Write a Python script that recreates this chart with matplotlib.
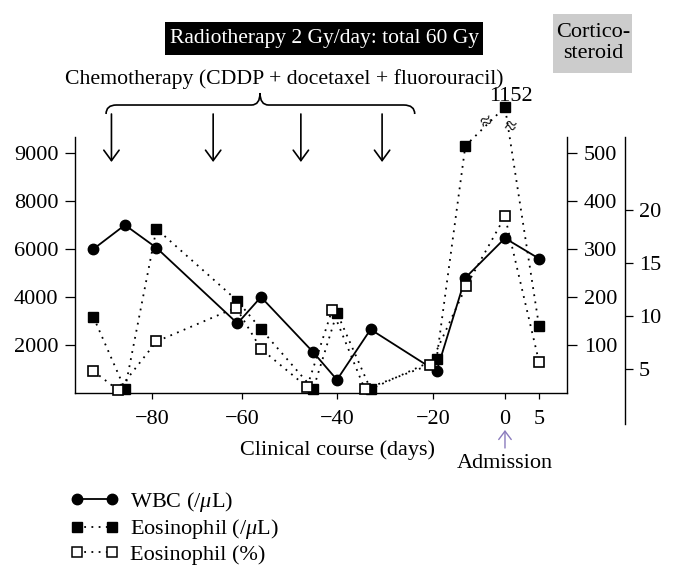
#Clinical course: WBC and eosinophil counts around radio/chemotherapy

import numpy as np
import matplotlib.pyplot as plt
from matplotlib.lines import Line2D
from matplotlib.path import Path
from matplotlib.patches import PathPatch, Rectangle
from matplotlib.scale import FuncScale

plt.rcParams['font.family'] = ['Liberation Serif', 'DejaVu Serif']
plt.rcParams['font.size'] = 16
plt.rcParams['mathtext.fontset'] = 'custom'
plt.rcParams['mathtext.rm'] = 'Liberation Serif'
plt.rcParams['mathtext.it'] = 'Liberation Serif:italic'

#Data (days relative to admission)
wbc_days = [-93, -86, -79, -61, -56, -45, -40, -33, -19, -11, 0, 5]
wbc = [6000, 7000, 6050, 2900, 4000, 1700, 550, 2650, 900, 4800, 6450, 5600]

eos_days = [-93, -86, -79, -61, -56, -45, -40, -33, -19, -11, 0, 5]
eos_ul = [158, 8, 342, 192, 133, 8, 167, 8, 71, 515, 1152, 140]

pct_days = [-93, -87.5, -79, -61.3, -56, -46.3, -41, -34.2, -20.6, -10.8, 0, 5]
eos_pct = [4.8, 3.0, 7.6, 10.8, 6.9, 3.3, 10.6, 3.1, 5.4, 12.8, 19.4, 5.7]

chemo_days = [-89, -66.4, -47.6, -30.6]

x_ticks = [-80, -60, -40, -20, 0, 5]
wbc_ticks = [2000, 4000, 6000, 8000, 10000]
wbc_ticklabels = ['2000', '4000', '6000', '8000', '9000']
eos_ticks = [100, 200, 300, 400, 500]
pct_ticks = [5, 10, 15, 20]

#The day axis in the original is drawn by hand: uneven spacing between ticks
knot_days = np.array([-80, -60, -40, -20, 0, 5], float)
knot_pos = np.array([152, 242, 337, 433, 505, 539], float)

def day_fwd(d):
    d = np.asarray(d, float)
    s0 = (knot_pos[1] - knot_pos[0]) / (knot_days[1] - knot_days[0])
    s1 = (knot_pos[-1] - knot_pos[-2]) / (knot_days[-1] - knot_days[-2])
    return np.where(d < knot_days[0], knot_pos[0] + (d - knot_days[0]) * s0,
           np.where(d > knot_days[-1], knot_pos[-1] + (d - knot_days[-1]) * s1,
                    np.interp(d, knot_days, knot_pos)))

def day_inv(p):
    p = np.asarray(p, float)
    s0 = (knot_days[1] - knot_days[0]) / (knot_pos[1] - knot_pos[0])
    s1 = (knot_days[-1] - knot_days[-2]) / (knot_pos[-1] - knot_pos[-2])
    return np.where(p < knot_pos[0], knot_days[0] + (p - knot_pos[0]) * s0,
           np.where(p > knot_pos[-1], knot_days[-1] + (p - knot_pos[-1]) * s1,
                    np.interp(p, knot_pos, knot_days)))

#Broken axis for the eosinophil peak (1152 drawn just above the axis top)
eos_shown = np.where(np.array(eos_ul) > 520, 520 + (np.array(eos_ul) - 520) * 0.12, eos_ul)

W, H = 674, 578
fig = plt.figure(figsize=(W / 100, H / 100), dpi=100)

ax = fig.add_axes([75 / W, 1 - 393 / H, 492 / W, 256 / H])
ax.set_xscale(FuncScale(ax.xaxis, (day_fwd, day_inv)))
ax.set_xlim(-97.1, 9.12)
ax.set_ylim(0, 10667)

ax2 = ax.twinx()
ax2.set_ylim(0, 533.3)

ax3 = fig.add_axes([75 / W, 1 - 424 / H, 492 / W, 287 / H], sharex=ax)
ax3.set_ylim(-0.19, 26.9)
ax3.patch.set_visible(False)

#Series
ax.plot(wbc_days, wbc, '-', color='k', lw=1.3, marker='o', ms=7.5, clip_on=False, zorder=3)
ax2.plot(eos_days, eos_shown, color='k', lw=1.3, ls=(0, (1, 3)), marker='s', ms=7.5,
         clip_on=False, zorder=3)
ax3.plot(pct_days, eos_pct, color='k', lw=1.3, ls=(0, (1, 3)), marker='s', ms=7.5,
         mfc='white', mec='k', mew=1.2, clip_on=False, zorder=3)

#Axis styling
for a in (ax, ax2, ax3):
    for s in a.spines.values():
        s.set_visible(False)
        s.set_linewidth(1.0)
ax.spines['left'].set_visible(True)
ax.spines['bottom'].set_visible(True)
ax2.spines['right'].set_visible(True)
ax3.spines['right'].set_visible(True)
ax3.spines['right'].set_position(('outward', 41.8))

ax.set_xticks(x_ticks)
ax.set_xticklabels(['\u221280', '\u221260', '\u221240', '\u221220', '0', '5'])
ax.tick_params(axis='x', direction='out', length=4.5, width=0.9, pad=8)
ax.set_yticks(wbc_ticks)
ax.set_yticklabels(wbc_ticklabels)
ax.tick_params(axis='y', direction='out', length=7, width=0.9, pad=5)

ax2.set_yticks(eos_ticks)
ax2.tick_params(axis='y', direction='out', length=7, width=0.9, pad=5)

ax3.yaxis.tick_right()
ax3.set_yticks(pct_ticks)
ax3.tick_params(axis='y', direction='out', length=6, width=0.9, pad=4)
ax3.tick_params(axis='x', bottom=False, labelbottom=False)

#Peak annotation and break marks
ax2.text(0.9, 608, '1152', ha='center', va='baseline')
ax2.text(-5, 562, '\u2248', ha='center', va='center', fontsize=15, rotation=25)
ax2.text(0.6, 552, '\u2248', ha='center', va='center', fontsize=15, rotation=-15)

#Chemotherapy arrows
for d in chemo_days:
    ax.annotate('', xy=(d, 9625), xytext=(d, 11625), annotation_clip=False,
                arrowprops=dict(arrowstyle='->,head_length=0.75,head_width=0.55',
                                lw=1.2, color='k', mutation_scale=10,
                                shrinkA=0, shrinkB=0))

#Curly brace over the chemotherapy cycles
x0, x1, xc = -90.2, -23.8, -56.2
ye, yf, yt = 11625, 12000, 12500
w, wc = 2.3, 1.8
verts = [(x0, ye), (x0, yf), (x0 + w, yf), (xc - wc, yf), (xc, yf), (xc, yt),
         (xc, yf), (xc + wc, yf), (x1 - w, yf), (x1, yf), (x1, ye)]
codes = [Path.MOVETO, Path.CURVE3, Path.CURVE3, Path.LINETO, Path.CURVE3, Path.CURVE3,
         Path.CURVE3, Path.CURVE3, Path.LINETO, Path.CURVE3, Path.CURVE3]
ax.add_patch(PathPatch(Path(verts, codes), fill=False, lw=1.2, ec='k',
                       transform=ax.transData, clip_on=False))

#Header labels with their boxes
fig.patches.append(Rectangle((165 / W, 1 - 55 / H), 318 / W, 33 / H, fc='black', ec='none',
                             transform=fig.transFigure, figure=fig))
fig.patches.append(Rectangle((553 / W, 1 - 73 / H), 79 / W, 59 / H, fc='#cccccc', ec='none',
                             transform=fig.transFigure, figure=fig))
fig.text(324 / W, 1 - 38 / H, 'Radiotherapy 2 Gy/day: total 60 Gy', color='white',
         ha='center', va='center', fontsize=15.5)
fig.text(284 / W, 1 - 84 / H, 'Chemotherapy (CDDP + docetaxel + fluorouracil)',
         ha='center', va='baseline', fontsize=15.7)
fig.text(593 / W, 1 - 43 / H, 'Cortico-\nsteroid', ha='center', va='center',
         linespacing=1.1)

#Axis label and admission marker
fig.text(337 / W, 1 - 450 / H, 'Clinical course (days)', ha='center', va='center')
fig.text(505 / W, 1 - 463 / H, 'Admission', ha='center', va='center')
ax.annotate('', xy=(0, 1 - 430 / H), xytext=(0, 1 - 448 / H),
            xycoords=('data', 'figure fraction'), textcoords=('data', 'figure fraction'),
            annotation_clip=False,
            arrowprops=dict(arrowstyle='->,head_length=0.6,head_width=0.45', lw=1.0,
                            color='#8a7bbd', mutation_scale=10, shrinkA=0, shrinkB=0))

#Legend
handles = [
    Line2D([], [], color='k', lw=1.3, marker='o', ms=7.5),
    Line2D([], [], color='k', lw=1.3, ls=(0, (1, 3)), marker='s', ms=7.5),
    Line2D([], [], color='k', lw=1.3, ls=(0, (1, 3)), marker='s', ms=7.5, mfc='white', mew=1.1),
]
labels = [r'WBC (/$\mu$L)', r'Eosinophil (/$\mu$L)', 'Eosinophil (%)']
fig.legend(handles, labels, loc='upper left', bbox_to_anchor=(70 / W, 1 - 490 / H),
           frameon=False, numpoints=2, handlelength=2.2, handletextpad=0.5,
           labelspacing=0.15, borderpad=0, borderaxespad=0)

plt.savefig('out.png', dpi=100)
